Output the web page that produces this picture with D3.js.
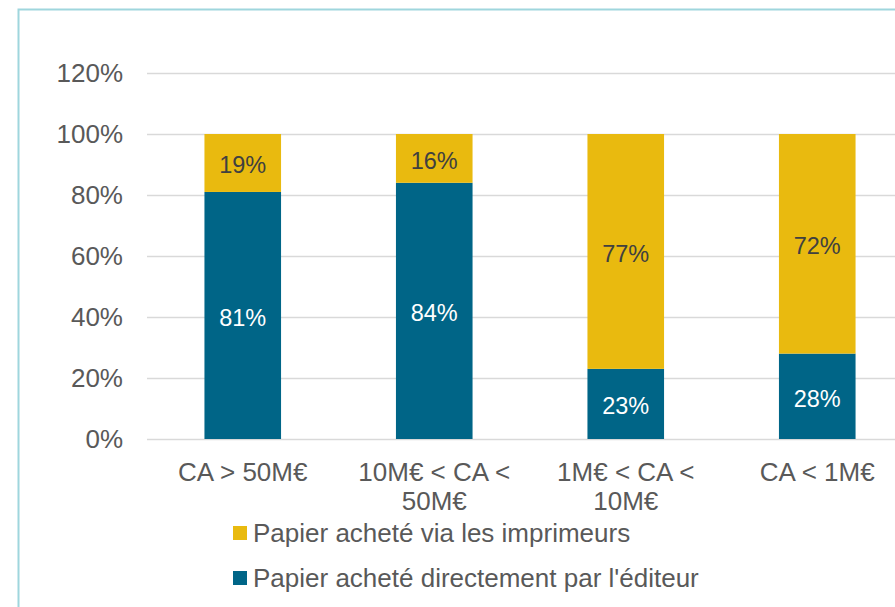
<!DOCTYPE html>
<html>
<head>
<meta charset="utf-8">
<script src="https://cdn.jsdelivr.net/npm/d3@7"></script>
<style>
  body { margin: 0; background: #fff; }
  svg { display: block; font-family: "Liberation Sans", Arial, sans-serif; }
</style>
</head>
<body>
<svg id="chart"></svg>
<script>
const categories = [["CA > 50M€"], ["10M€ < CA <", "50M€"], ["1M€ < CA <", "10M€"], ["CA < 1M€"]];
const directValues = [81, 84, 23, 28];
const printerValues = [19, 16, 77, 72];
const yTicks = [0, 20, 40, 60, 80, 100, 120];
const seriesNames = ["Papier acheté via les imprimeurs", "Papier acheté directement par l'éditeur"];

const width = 895, height = 607;
const margin = {top: 73, left: 147, bottom: 168};
const plotWidth = 766;
const plotHeight = height - margin.top - margin.bottom;

const blue = "#006587", yellow = "#E9BA0F", grey = "#595959";

const svg = d3.select("#chart").attr("width", width).attr("height", height);

// outer frame
svg.append("rect")
  .attr("x", 18.5).attr("y", 9.5)
  .attr("width", 1000).attr("height", 1000)
  .attr("fill", "none").attr("stroke", "#9fd6dd").attr("stroke-width", 2);

const g = svg.append("g").attr("transform", `translate(${margin.left},${margin.top})`);

const keys = categories.map((c, i) => i);
const x = d3.scaleBand().domain(keys).range([0, plotWidth]).paddingInner(0.6).paddingOuter(0.3);
const y = d3.scaleLinear().domain([0, 120]).range([plotHeight, 0]);

// grid + y labels
const yAxis = g.append("g")
  .call(d3.axisLeft(y).tickValues(yTicks).tickSize(-plotWidth).tickPadding(24).tickFormat(d => d + "%"));
yAxis.select(".domain").remove();
yAxis.selectAll(".tick line").attr("stroke", "#d9d9d9").attr("stroke-width", 1.5);
yAxis.selectAll(".tick text").attr("fill", grey).attr("font-size", 26).attr("font-family", "Liberation Sans, Arial, sans-serif");

// bars
const rows = keys.map(i => ({i, direct: directValues[i], printer: printerValues[i]}));

g.selectAll(".direct").data(rows).join("rect")
  .attr("class", "direct")
  .attr("x", d => x(d.i)).attr("width", x.bandwidth())
  .attr("y", d => y(d.direct)).attr("height", d => y(0) - y(d.direct))
  .attr("fill", blue);

g.selectAll(".printer").data(rows).join("rect")
  .attr("class", "printer")
  .attr("x", d => x(d.i)).attr("width", x.bandwidth())
  .attr("y", d => y(d.direct + d.printer)).attr("height", d => y(d.direct) - y(d.direct + d.printer))
  .attr("fill", yellow);

g.selectAll(".lbl-direct").data(rows).join("text")
  .attr("x", d => x(d.i) + x.bandwidth() / 2)
  .attr("y", d => (y(0) + y(d.direct)) / 2 + 2)
  .attr("dy", "0.35em").attr("text-anchor", "middle")
  .attr("fill", "#fff").attr("font-size", 23.5)
  .text(d => d.direct + "%");

g.selectAll(".lbl-printer").data(rows).join("text")
  .attr("x", d => x(d.i) + x.bandwidth() / 2)
  .attr("y", d => (y(d.direct) + y(d.direct + d.printer)) / 2 + 2)
  .attr("dy", "0.35em").attr("text-anchor", "middle")
  .attr("fill", "#404040").attr("font-size", 23.5)
  .text(d => d.printer + "%");

// category labels
const cat = g.selectAll(".cat").data(rows).join("text")
  .attr("class", "cat")
  .attr("x", d => x(d.i) + x.bandwidth() / 2)
  .attr("y", plotHeight + 42)
  .attr("text-anchor", "middle").attr("fill", grey).attr("font-size", 26);
cat.selectAll("tspan").data(d => categories[d.i]).join("tspan")
  .attr("x", function() { return d3.select(this.parentNode).attr("x"); })
  .attr("dy", (d, j) => j ? 29 : 0)
  .text(d => d);

// legend
const legend = svg.append("g").attr("transform", "translate(233,0)");
const legendRows = [{name: seriesNames[0], color: yellow, y: 533}, {name: seriesNames[1], color: blue, y: 578}];
legend.selectAll("rect").data(legendRows).join("rect")
  .attr("x", 0).attr("y", d => d.y - 7).attr("width", 14).attr("height", 14)
  .attr("fill", d => d.color);
legend.selectAll("text").data(legendRows).join("text")
  .attr("x", 20).attr("y", d => d.y).attr("dy", "0.35em")
  .attr("fill", grey).attr("font-size", 26)
  .text(d => d.name);
</script>
</body>
</html>
